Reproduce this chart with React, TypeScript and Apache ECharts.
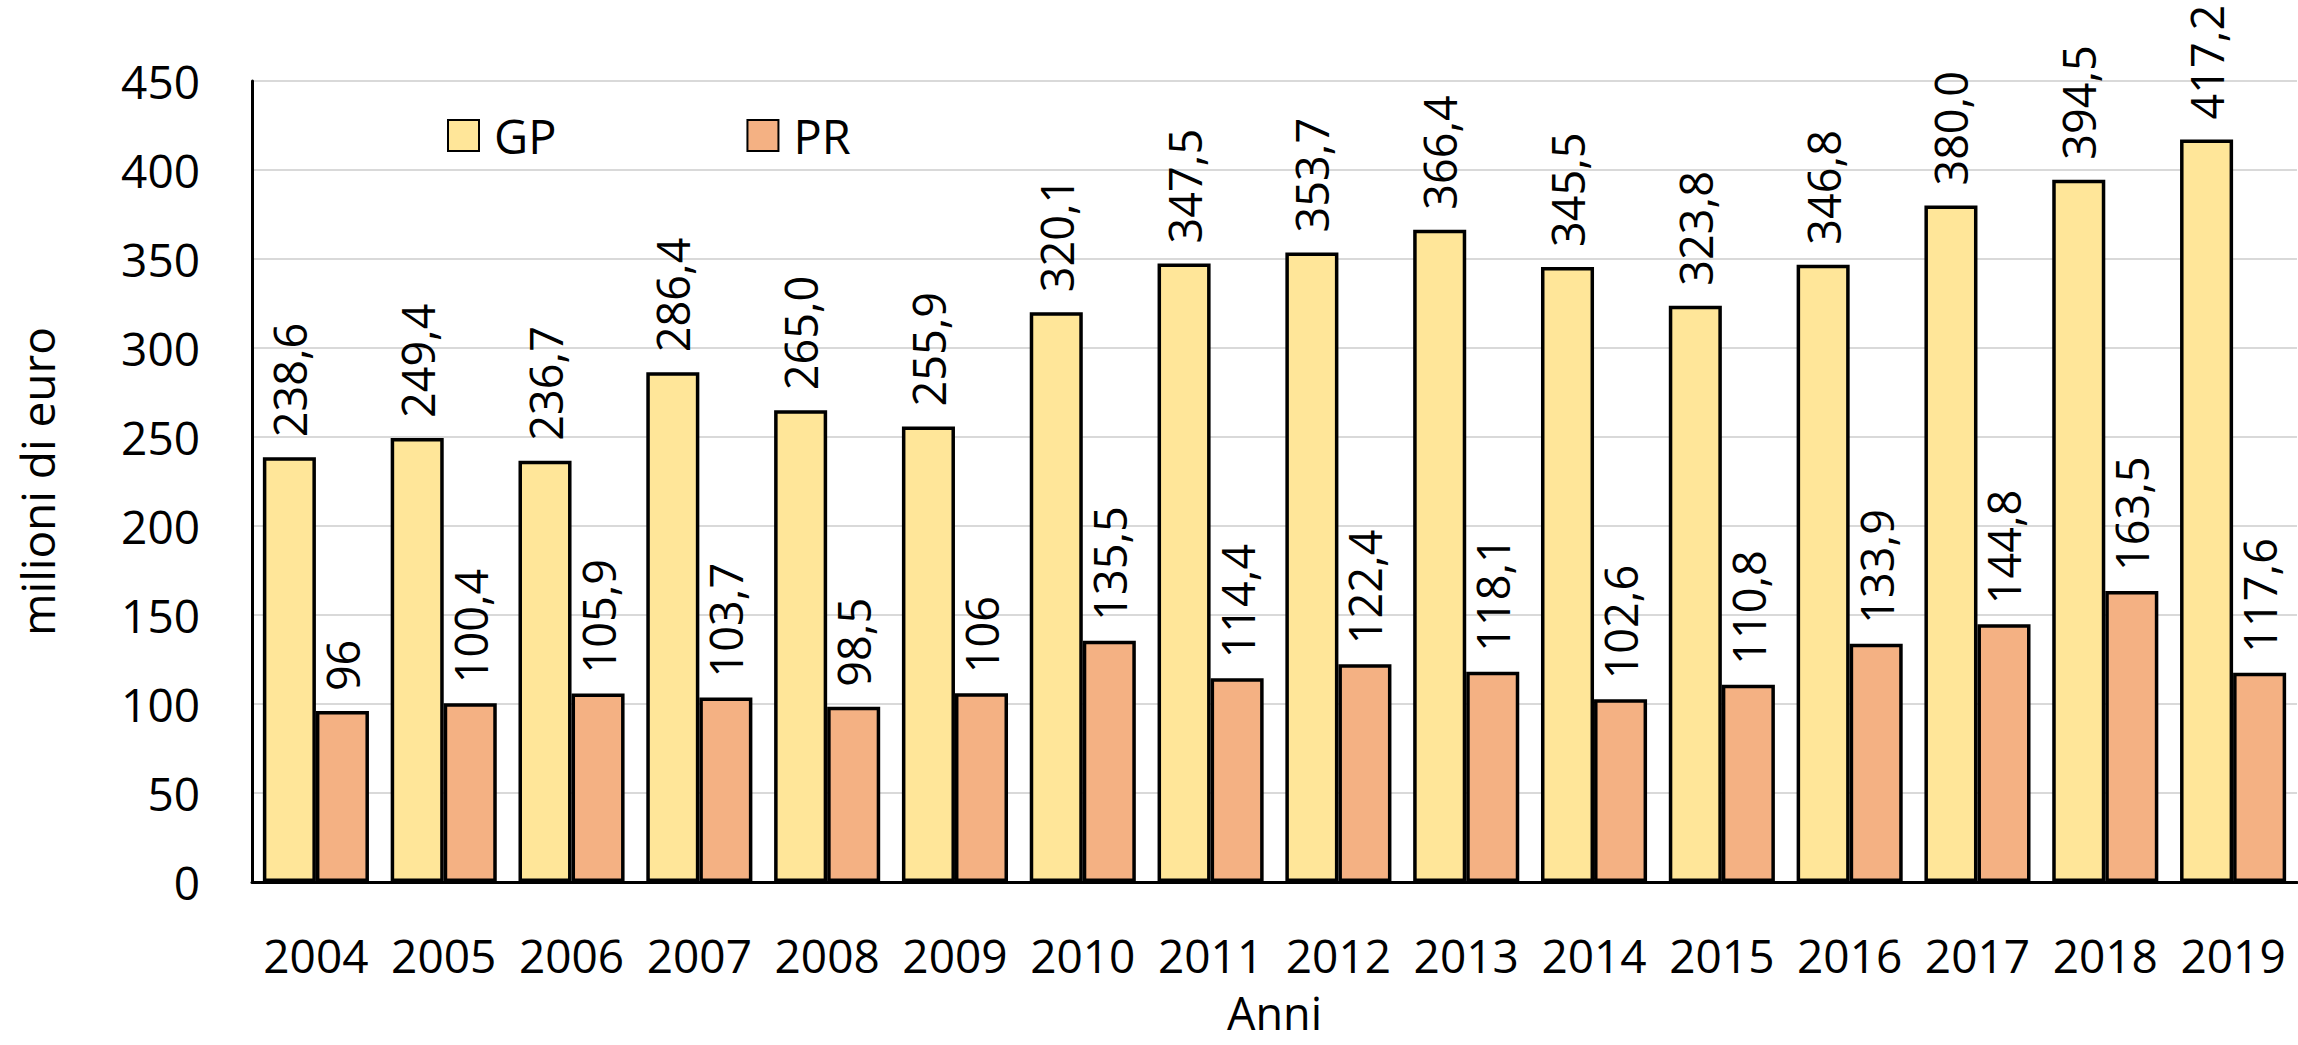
import React, { useEffect, useRef } from "react";
import * as echarts from "echarts";

const years = ["2004", "2005", "2006", "2007", "2008", "2009", "2010", "2011", "2012", "2013", "2014", "2015", "2016", "2017", "2018", "2019"];
const gpValues = [238.6, 249.4, 236.7, 286.4, 265.0, 255.9, 320.1, 347.5, 353.7, 366.4, 345.5, 323.8, 346.8, 380.0, 394.5, 417.2];
const prValues = [96, 100.4, 105.9, 103.7, 98.5, 106, 135.5, 114.4, 122.4, 118.1, 102.6, 110.8, 133.9, 144.8, 163.5, 117.6];
const seriesNames = ["GP", "PR"];
const yTicks = { min: 0, max: 450, interval: 50 };
const yAxisName = "milioni di euro";
const xAxisName = "Anni";

const FONT = "'Open Sans', 'Noto Sans', sans-serif";

const fmtAlways = (v: number) => v.toFixed(1).replace(".", ",");
const fmtTrim = (v: number) => (Number.isInteger(v) ? String(v) : v.toFixed(1).replace(".", ","));

export default function App() {
  const ref = useRef<HTMLDivElement>(null);
  useEffect(() => {
    if (!ref.current) return;
    const chart = echarts.init(ref.current, undefined, { renderer: "svg" });
    const labelBase = {
      show: true,
      position: "top",
      rotate: 90,
      align: "left",
      verticalAlign: "middle",
      distance: 12,
      offset: [8, 0],
      fontSize: 45,
      color: "#000",
      fontFamily: FONT,
    };
    chart.setOption({
      animation: false,
      backgroundColor: "#fff",
      textStyle: { fontFamily: FONT, color: "#000" },
      grid: { left: 252, right: 1, top: 81, bottom: 163, containLabel: false },
      legend: {
        data: seriesNames,
        left: 442,
        top: 107,
        icon: "rect",
        itemWidth: 31,
        itemHeight: 31,
        itemGap: 190,
        textStyle: { fontSize: 47, color: "#000", fontFamily: FONT, lineHeight: 47, padding: [0, 0, 0, 10] },
      },
      xAxis: {
        type: "category",
        data: years,
        name: xAxisName,
        nameLocation: "middle",
        nameGap: 108,
        nameTextStyle: { fontSize: 45, color: "#000", fontFamily: FONT, lineHeight: 45 },
        axisLine: { lineStyle: { color: "#000", width: 3 } },
        axisTick: { show: false },
        axisLabel: { interval: 0, fontSize: 46, color: "#000", margin: 50, fontFamily: FONT },
      },
      yAxis: {
        type: "value",
        min: yTicks.min,
        max: yTicks.max,
        interval: yTicks.interval,
        name: yAxisName,
        nameLocation: "middle",
        nameGap: 192,
        nameRotate: 90,
        nameTextStyle: { fontSize: 46, color: "#000", fontFamily: FONT },
        axisLine: { show: true, lineStyle: { color: "#000", width: 3 } },
        axisTick: { show: false },
        axisLabel: { fontSize: 46, color: "#000", margin: 52, fontFamily: FONT },
        splitLine: { lineStyle: { color: "#d9d9d9", width: 2 } },
      },
      series: [
        {
          name: seriesNames[0],
          type: "bar",
          data: gpValues,
          barGap: "0%",
          barCategoryGap: "17%",
          itemStyle: { color: "#FFE699", borderColor: "#000", borderWidth: 3.5 },
          label: { ...labelBase, formatter: (p: any) => fmtAlways(p.value) },
        },
        {
          name: seriesNames[1],
          type: "bar",
          data: prValues,
          barGap: "0%",
          barCategoryGap: "17%",
          itemStyle: { color: "#F4B183", borderColor: "#000", borderWidth: 3.5 },
          label: { ...labelBase, formatter: (p: any) => fmtTrim(p.value) },
        },
      ],
    });
    return () => chart.dispose();
  }, []);
  return (
    <div
      ref={ref}
      style={{ position: "fixed", left: 0, top: 0, width: 2298, height: 1045, background: "#fff" }}
    />
  );
}
